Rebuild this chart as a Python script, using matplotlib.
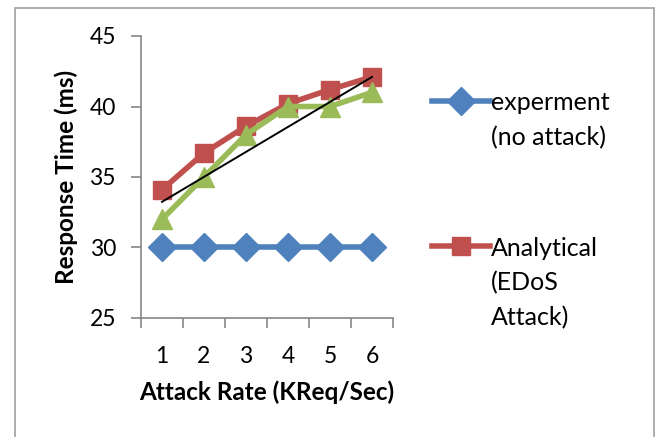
import numpy as np
import matplotlib
matplotlib.use("Agg")
import matplotlib.pyplot as plt
from matplotlib.lines import Line2D
from matplotlib.patches import Rectangle

plt.rcParams['font.family'] = ['Lato', 'DejaVu Sans']

rates = [1, 2, 3, 4, 5, 6]
experiment = [30, 30, 30, 30, 30, 30]
analytical = [34.1, 36.7, 38.6, 40.2, 41.2, 42.1]
simulated = [32, 35, 38, 40, 40, 41]

BLUE = "#4F81BD"
RED = "#C0504D"
GREEN = "#9BBB59"
GRAY = "#868686"

fig = plt.figure(figsize=(6.62, 4.37), dpi=100)
ax = fig.add_axes([141 / 662, 1 - 318 / 437, 252 / 662, 282 / 437])

ax.plot(rates, experiment, color=BLUE, lw=4, marker="D", ms=14, zorder=3)
ax.plot(rates, analytical, color=RED, lw=4, marker="s", ms=13.5, zorder=3)
ax.plot(rates, simulated, color=GREEN, lw=4, marker="^", ms=14.5, zorder=4)

# linear trendline of the green series
k, b = np.polyfit(rates, simulated, 1)
xs = np.array([rates[0], rates[-1]])
ax.plot(xs, k * xs + b, color="black", lw=1.4, zorder=5)

ax.set_xlim(0.5, 6.5)
ax.set_ylim(25, 45)
ax.set_yticks([25, 30, 35, 40, 45])
ax.set_xticks(np.arange(0.5, 7, 1))
ax.set_xticks(rates, minor=True)
ax.set_xticklabels([])
ax.set_xticklabels([str(r) for r in rates], minor=True)
ax.tick_params(axis="x", which="major", length=7, color=GRAY, width=1.2)
ax.tick_params(axis="x", which="minor", length=0, pad=20, labelsize=16.5)
ax.tick_params(axis="y", length=7, color=GRAY, width=1.2, labelsize=16.5, pad=11)
for s in ["top", "right"]:
    ax.spines[s].set_visible(False)
for s in ["left", "bottom"]:
    ax.spines[s].set_color(GRAY)
    ax.spines[s].set_linewidth(1.2)

ax.set_ylabel("Response Time (ms)", fontsize=17.5, fontweight="bold", labelpad=8)
ax.set_xlabel("Attack Rate (KReq/Sec)", fontsize=17.5, fontweight="bold", labelpad=10)

# legend drawn by hand so the handle sits on the first text line
W, H = 662, 437
for yy, col, mk, ms, lines in [(101, BLUE, "D", 14, ["experment", "(no attack)"]),
                               (246, RED, "s", 13.5, ["Analytical", "(EDoS", "Attack)"])]:
    fig.add_artist(Line2D([432 / W, 490 / W], [1 - yy / H, 1 - yy / H],
                          color=col, lw=4, transform=fig.transFigure))
    fig.add_artist(Line2D([461 / W], [1 - yy / H], color=col, marker=mk, ms=ms,
                          transform=fig.transFigure))
    for i, line in enumerate(lines):
        fig.text(491 / W, 1 - (yy + 2 + 35 * i) / H, line, fontsize=18,
                 va="center")

fig.add_artist(Rectangle((15 / W, -0.05), 639 / W, 1 - 8 / H + 0.05,
                         transform=fig.transFigure, fill=False,
                         edgecolor="#A0A0A0", lw=1.2))

fig.savefig("out.png", dpi=100)
